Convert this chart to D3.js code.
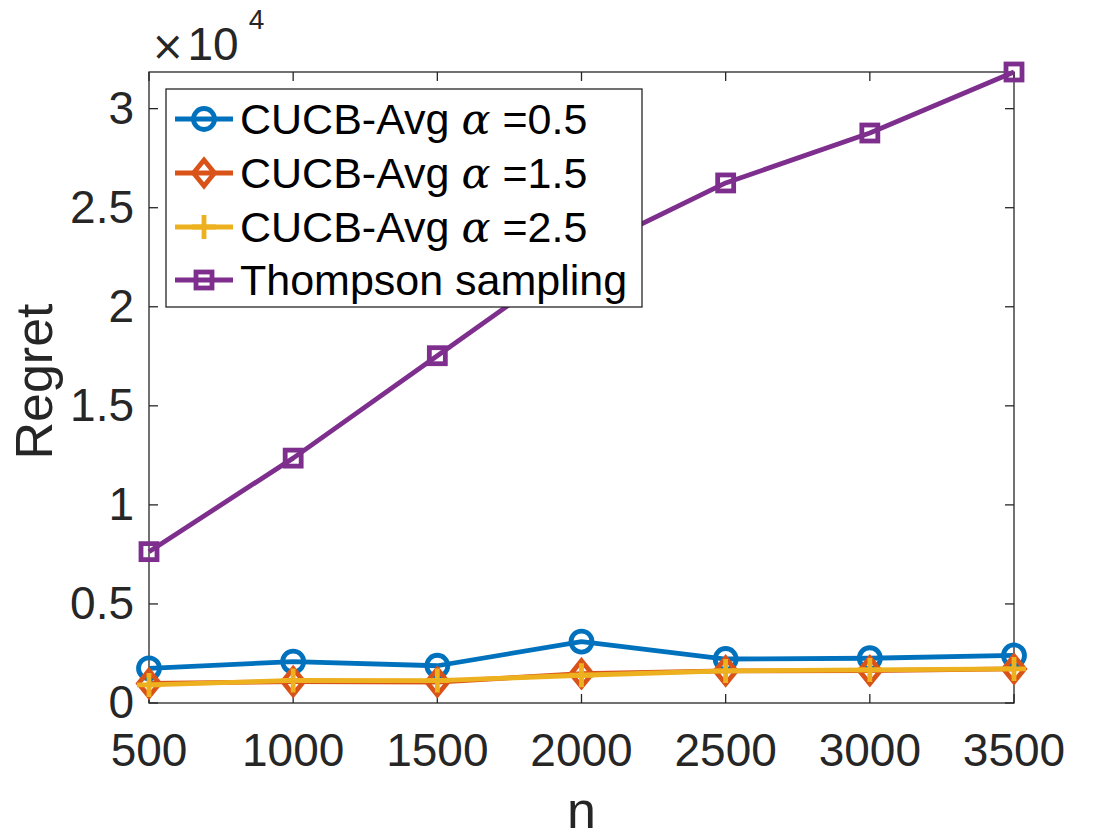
<!DOCTYPE html>
<html>
<head>
    <meta charset="UTF-8">
    <title>Regret vs n</title>
    <script src="https://d3js.org/d3.v7.min.js"></script>
    <style>
      body { margin: 0; background: white; }
    </style>
</head>
<body>
    <svg id="chart"></svg>

    <script>

    // data (regret values, not scaled by 1e4)
    const nValues = [500, 1000, 1500, 2000, 2500, 3000, 3500];
    const cucbAlpha05 = [1750, 2090, 1880, 3100, 2220, 2260, 2400];
    const cucbAlpha15 = [990, 1080, 1060, 1480, 1620, 1630, 1720];
    const cucbAlpha25 = [910, 1140, 1130, 1400, 1620, 1670, 1720];
    const thompson = [7640, 12360, 17530, 22700, 26250, 28770, 31850];

    const xTicks = [500, 1000, 1500, 2000, 2500, 3000, 3500];
    const yTicks = [0, 5000, 10000, 15000, 20000, 25000, 30000];
    const yTickLabels = ["0", "0.5", "1", "1.5", "2", "2.5", "3"];
    const alphaLabels = ["0.5", "1.5", "2.5"];

    const width = 1120;
    const height = 840;
    const plot = {left: 149, right: 1014, top: 72, bottom: 703};
    const font = "'Liberation Sans', Arial, Helvetica, sans-serif";
    const ink = "#262626";
    const lw = 4.8;

    const svg = d3.select("#chart")
      .attr("width", width)
      .attr("height", height);

    const x_scale = d3.scaleLinear()
      .domain([500, 3500])
      .range([plot.left, plot.right]);

    const y_scale = d3.scaleLinear()
      .domain([0, 31850])
      .range([plot.bottom, plot.top]);

    const series = [
      {name: "a05", values: cucbAlpha05, color: "#0072BD", marker: "circle"},
      {name: "a15", values: cucbAlpha15, color: "#D95319", marker: "diamond"},
      {name: "a25", values: cucbAlpha25, color: "#EDB120", marker: "plus"},
      {name: "ts", values: thompson, color: "#7E2F8E", marker: "square"}
    ];

    // marker drawing, centred on (0,0)
    function drawMarker(g, kind, color) {
      if (kind === "circle") {
        g.append("circle").attr("r", 10.5)
          .attr("fill", "none").attr("stroke", color).attr("stroke-width", lw);
      } else if (kind === "diamond") {
        g.append("path").attr("d", "M0,-13 L10.5,0 L0,13 L-10.5,0 Z")
          .attr("fill", "none").attr("stroke", color).attr("stroke-width", lw)
          .attr("stroke-linejoin", "miter");
      } else if (kind === "plus") {
        g.append("path").attr("d", "M0,-12 V12 M-12,0 H12")
          .attr("fill", "none").attr("stroke", color).attr("stroke-width", lw);
      } else {
        g.append("rect").attr("x", -8).attr("y", -8).attr("width", 16).attr("height", 16)
          .attr("fill", "none").attr("stroke", color).attr("stroke-width", lw);
      }
    }

    // axes box
    svg.append("rect")
      .attr("x", plot.left).attr("y", plot.top)
      .attr("width", plot.right - plot.left).attr("height", plot.bottom - plot.top)
      .attr("fill", "none").attr("stroke", ink).attr("stroke-width", 1.3);

    const tickLen = 9;

    // x ticks bottom + mirrored top
    xTicks.forEach(t => {
      svg.append("line")
        .attr("x1", x_scale(t)).attr("x2", x_scale(t))
        .attr("y1", plot.bottom).attr("y2", plot.bottom - tickLen)
        .attr("stroke", ink).attr("stroke-width", 1.3);
      svg.append("line")
        .attr("x1", x_scale(t)).attr("x2", x_scale(t))
        .attr("y1", plot.top).attr("y2", plot.top + tickLen)
        .attr("stroke", ink).attr("stroke-width", 1.3);
    });

    yTicks.forEach(t => {
      svg.append("line")
        .attr("x1", plot.left).attr("x2", plot.left + tickLen)
        .attr("y1", y_scale(t)).attr("y2", y_scale(t))
        .attr("stroke", ink).attr("stroke-width", 1.3);
      svg.append("line")
        .attr("x1", plot.right).attr("x2", plot.right - tickLen)
        .attr("y1", y_scale(t)).attr("y2", y_scale(t))
        .attr("stroke", ink).attr("stroke-width", 1.3);
    });

    // tick labels by hand
    svg.selectAll(".xlabel")
      .data(xTicks)
      .enter()
      .append("text")
      .attr("class", "xlabel")
      .attr("x", d => x_scale(d))
      .attr("y", 766)
      .attr("text-anchor", "middle")
      .attr("font-family", font)
      .attr("font-size", "46px")
      .attr("fill", ink)
      .text(d => d);

    svg.selectAll(".ylabel")
      .data(yTicks)
      .enter()
      .append("text")
      .attr("class", "ylabel")
      .attr("x", 134)
      .attr("y", d => y_scale(d) + 15)
      .attr("text-anchor", "end")
      .attr("font-family", font)
      .attr("font-size", "46px")
      .attr("fill", ink)
      .text((d, i) => yTickLabels[i]);

    // exponent
    const expo = svg.append("text")
      .attr("x", 151)
      .attr("y", 60)
      .attr("font-family", font)
      .attr("font-size", "46px")
      .attr("fill", ink);
    expo.append("tspan").attr("font-family", "'DejaVu Sans', sans-serif").attr("font-size", "40px").text("\u00d7");
    expo.append("tspan").attr("dx", 3).text("10");
    expo.append("tspan").attr("font-size", "28px").attr("dy", -31).attr("dx", 10).text("4");

    // axis titles
    svg.append("text")
      .attr("text-anchor", "middle")
      .attr("x", (plot.left + plot.right) / 2)
      .attr("y", 828)
      .attr("font-family", font)
      .attr("font-size", "52px")
      .attr("fill", ink)
      .text("n");

    svg.append("text")
      .attr("text-anchor", "middle")
      .attr("transform", `translate(52, ${(plot.top + plot.bottom) / 2 - 6})rotate(-90)`)
      .attr("font-family", font)
      .attr("font-size", "52px")
      .attr("fill", ink)
      .text("Regret");

    // lines + markers
    const line = d3.line()
      .x((d, i) => x_scale(nValues[i]))
      .y(d => y_scale(d));

    series.forEach(s => {
      svg.append("path")
        .datum(s.values)
        .attr("d", line)
        .attr("fill", "none")
        .attr("stroke", s.color)
        .attr("stroke-width", lw)
        .attr("stroke-linejoin", "round");

      s.values.forEach((v, i) => {
        const g = svg.append("g")
          .attr("transform", `translate(${x_scale(nValues[i])}, ${y_scale(v)})`);
        drawMarker(g, s.marker, s.color);
      });
    });

    // legend
    const legend = svg.append("g");
    legend.append("rect")
      .attr("x", 166).attr("y", 89)
      .attr("width", 476).attr("height", 218)
      .attr("fill", "white").attr("stroke", ink).attr("stroke-width", 1.3);

    const rowY = [119, 173, 227, 280];
    series.forEach((s, i) => {
      const y = rowY[i];
      legend.append("line")
        .attr("x1", 175).attr("x2", 233)
        .attr("y1", y).attr("y2", y)
        .attr("stroke", s.color).attr("stroke-width", lw);
      drawMarker(legend.append("g").attr("transform", `translate(204, ${y})`), s.marker, s.color);

      const t = legend.append("text")
        .attr("x", 240)
        .attr("y", y + 15)
        .attr("font-family", font)
        .attr("font-size", "43px")
        .attr("fill", "black");
      if (i < 3) {
        t.append("tspan").text("CUCB-Avg ");
        t.append("tspan")
          .attr("font-family", "'DejaVu Serif', 'Liberation Serif', serif")
          .attr("font-style", "italic")
          .text("\u03b1");
        t.append("tspan").text(" =" + alphaLabels[i]);
      } else {
        t.text("Thompson sampling");
      }
    });

    </script>
</body>
</html>
